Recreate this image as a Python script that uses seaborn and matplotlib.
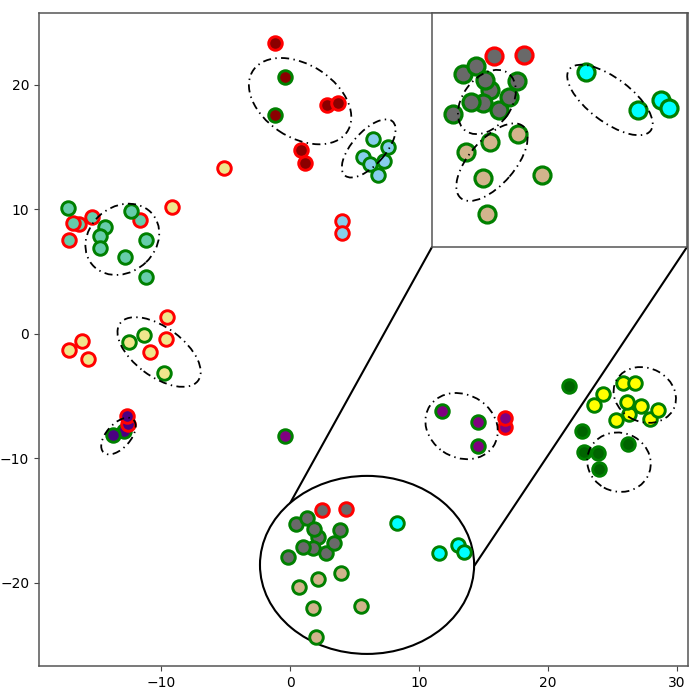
import matplotlib
matplotlib.use("Agg")
import matplotlib.pyplot as plt
from matplotlib.patches import Ellipse
import seaborn as sns

W, H = 699, 692
RED, GREEN = "red", "green"

# (fill, edge, xs, ys) groups, drawn in this order
darkred_red_x = [-1.16, 2.87, 3.72, 0.85, 1.16]
darkred_red_y = [23.35, 18.39, 18.55, 14.8, 13.73]
darkred_green_x = [-0.36, -1.14]
darkred_green_y = [20.64, 17.55]
sky_red_x = [4.03, 4.03]
sky_red_y = [9.1, 8.11]
sky_green_x = [5.66, 6.2, 6.82, 7.29, 6.43, 7.6]
sky_green_y = [14.2, 13.65, 12.77, 13.9, 15.66, 15.02]
khaki_red_x = [-9.53, -9.61, -10.85, -16.12, -17.13, -15.66, -5.12, -9.15]
khaki_red_y = [1.37, -0.4, -1.45, -0.56, -1.29, -2.0, 13.33, 10.2]
khaki_green_x = [-12.48, -11.32, -9.77]
khaki_green_y = [-0.64, -0.08, -3.13]
indigo_green_x = [-12.87, -13.72]
indigo_green_y = [-7.79, -8.11]
indigo_red_x = [-12.56, -12.64]
indigo_red_y = [-7.23, -6.59]
aqua_red_x = [-15.35, -16.36, -16.82, -11.63, -17.13]
aqua_red_y = [9.4, 8.84, 8.92, 9.16, 7.55]
aqua_green_x = [-17.21, -12.33, -14.34, -14.73, -14.73, -11.16, -12.79, -11.16]
aqua_green_y = [10.12, 9.88, 8.59, 7.87, 6.91, 7.55, 6.18, 4.58]
purple_green_x = [11.78, 14.57, 14.57, -0.39]
purple_green_y = [-6.18, -7.07, -9.0, -8.19]
purple_red_x = [16.67, 16.67]
purple_red_y = [-7.47, -6.75]
dgreen_x = [21.63, 22.64, 22.79, 23.88, 23.95, 26.2]
dgreen_y = [-4.18, -7.79, -9.48, -9.56, -10.84, -8.84]
yellow_x = [27.91, 26.28, 25.27, 23.57, 24.26, 25.81, 26.74, 26.12, 27.21, 28.53]
yellow_y = [-6.83, -6.43, -6.91, -5.7, -4.82, -3.94, -3.94, -5.46, -5.78, -6.1]
gray_red_x = [2.48, 4.34]
gray_red_y = [-14.14, -14.06]
gray_green_x = [2.17, 1.78, 2.79, 1.01, 3.41, 3.88, -0.16, 0.47, 1.32, 1.86]
gray_green_y = [-16.3, -17.19, -17.59, -17.11, -16.79, -15.74, -17.91, -15.26, -14.78, -15.66]
tan_x = [0.7, 2.17, 3.95, 1.78, 5.5, 2.02]
tan_y = [-20.32, -19.68, -19.2, -22.0, -21.85, -24.34]
cyan_x = [8.29, 11.55, 13.02, 13.49]
cyan_y = [-15.18, -17.59, -16.95, -17.51]

main_groups = [
    ("darkred", RED, darkred_red_x, darkred_red_y),
    ("darkred", GREEN, darkred_green_x, darkred_green_y),
    ("skyblue", RED, sky_red_x, sky_red_y),
    ("skyblue", GREEN, sky_green_x, sky_green_y),
    ("khaki", RED, khaki_red_x, khaki_red_y),
    ("khaki", GREEN, khaki_green_x, khaki_green_y),
    ("indigo", GREEN, indigo_green_x, indigo_green_y),
    ("indigo", RED, indigo_red_x, indigo_red_y),
    ("mediumaquamarine", RED, aqua_red_x, aqua_red_y),
    ("mediumaquamarine", GREEN, aqua_green_x, aqua_green_y),
    ("purple", GREEN, purple_green_x, purple_green_y),
    ("purple", RED, purple_red_x, purple_red_y),
    ("darkgreen", GREEN, dgreen_x, dgreen_y),
    ("yellow", GREEN, yellow_x, yellow_y),
]
zoom_groups = [
    ("dimgray", RED, gray_red_x, gray_red_y),
    ("dimgray", GREEN, gray_green_x, gray_green_y),
    ("tan", GREEN, tan_x, tan_y),
    ("cyan", GREEN, cyan_x, cyan_y),
]

# center x, center y, width, height, angle
main_ellipses = [
    (0.78, 18.7, 8.8, 5.8, -35),
    (6.1, 14.9, 5.7, 2.6, 50),
    (-13.0, 7.6, 6.2, 5.2, 45),
    (-10.15, -1.45, 7.6, 3.9, -38),
    (-13.3, -8.2, 3.5, 1.9, 50),
    (13.3, -7.4, 5.9, 5.0, -35),
    (27.5, -4.9, 5.0, 4.3, -30),
    (25.5, -10.3, 5.0, 4.7, -30),
]
zoom_ellipses = [
    (2.0, -17.1, 4.6, 3.1, 55),
    (2.32, -21.0, 6.1, 2.9, 50),
    (9.78, -16.97, 6.5, 2.8, -38),
]
big_ellipse = (5.97, -18.55, 16.6, 14.3)

main_xlim = (-19.46, 30.85)
main_ylim = (-26.67, 25.78)
zoom_xlim = (-1.47, 14.65)
zoom_ylim = (-26.5, -11.33)
connector_ends = [(0.0, -13.6), (14.3, -18.6)]

sns.set_style("white")
plt.rcParams["font.family"] = ["DejaVu Sans"]

fig = plt.figure(figsize=(W / 100, H / 100), dpi=100)


def box(l, t, r, b):
    return [l / W, 1 - b / H, (r - l) / W, (b - t) / H]


ax = fig.add_axes(box(39, 13, 688, 666))
ins = fig.add_axes(box(432, 13, 687, 247))


def draw(a, groups, size, lw):
    for fill, edge, xs, ys in groups:
        sns.scatterplot(x=xs, y=ys, ax=a, color=fill, edgecolor=edge,
                        s=size, linewidth=lw, zorder=4, legend=False)


draw(ax, main_groups + zoom_groups, 95, 2.1)
draw(ins, zoom_groups, 150, 2.3)

for a, ells in ((ax, main_ellipses), (ins, zoom_ellipses)):
    for cx, cy, w, h, ang in ells:
        a.add_patch(Ellipse((cx, cy), w, h, angle=ang, fill=False, ec="black",
                            ls=(0, (4.5, 2.4, 0.8, 2.4)), lw=1.3, zorder=5))

ax.add_patch(Ellipse(big_ellipse[:2], big_ellipse[2], big_ellipse[3], fc="white",
                     ec="black", lw=1.5, zorder=3))

ax.set_xlim(main_xlim)
ax.set_ylim(main_ylim)
ins.set_xlim(zoom_xlim)
ins.set_ylim(zoom_ylim)

# connector lines from the inset's lower corners to the big ellipse
inv = ax.transData.inverted()
for corner, end in zip(((432, H - 247), (687, H - 247)), connector_ends):
    c = inv.transform(corner)
    ax.plot([c[0], end[0]], [c[1], end[1]], color="black", lw=1.5, zorder=2)

ax.set_xticks([-10, 0, 10, 20, 30])
ax.set_yticks([-20, -10, 0, 10, 20])
ax.tick_params(bottom=True, left=True, length=3.5, width=0.8, color="#444444",
               labelsize=10, labelcolor="black")
ins.set_xticks([])
ins.set_yticks([])
for a in (ax, ins):
    for s in a.spines.values():
        s.set_visible(True)
        s.set_color("#555555")
        s.set_linewidth(1.1)

fig.savefig("out.png", dpi=100)
